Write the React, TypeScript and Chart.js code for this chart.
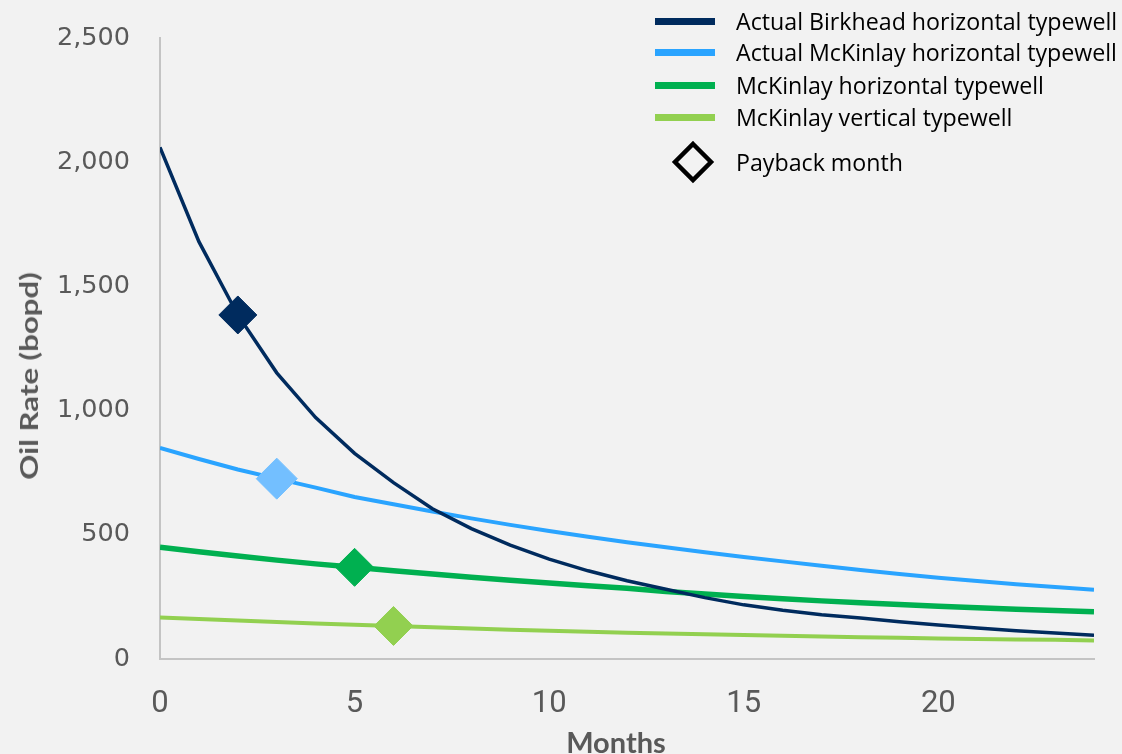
import React, { useEffect, useRef } from 'react';
import { Chart, registerables } from 'chart.js';

Chart.register(...registerables);

// ---- Data ----
const months = [0, 1, 2, 3, 4, 5, 6, 7, 8, 9, 10, 11, 12, 13, 14, 15, 16, 17, 18, 19, 20, 21, 22, 23, 24];

const birkheadActual = [2060, 1680, 1385, 1152, 972, 828, 710, 605, 525, 458, 402, 355, 315, 281, 247, 218, 196, 178, 165, 150, 137, 125, 114, 105, 96];
const mckinlayActualH = [850, 805, 763, 726, 690, 652, 623, 594, 566, 540, 515, 492, 470, 450, 430, 411, 393, 375, 358, 342, 327, 314, 301, 290, 279];
const mckinlayH = [450, 432, 415, 398, 383, 369, 355, 342, 329, 317, 306, 295, 285, 272, 262, 252, 243, 234, 226, 219, 212, 206, 200, 195, 190];
const mckinlayV = [167, 161, 155, 149, 143, 138, 133, 128, 123, 118, 114, 110, 106, 103, 100, 97, 94, 91, 88, 86, 83, 81, 79, 77, 74];

const seriesNames = [
  'Actual Birkhead horizontal typewell',
  'Actual McKinlay horizontal typewell',
  'McKinlay horizontal typewell',
  'McKinlay vertical typewell',
];
const paybackMonths = [2, 3, 5, 6];
const paybackLabel = 'Payback month';

const yTicks = [0, 500, 1000, 1500, 2000, 2500];
const xTicks = [0, 5, 10, 15, 20];

// ---- Styles ----
const lineColors = ['#002B5E', '#2AA4FF', '#00B050', '#92D050'];
const markerColors = ['#002B5E', '#73BFFF', '#00B050', '#92D050'];
const lineWidths = [3.5, 4, 5.5, 4];
const markerRadii = [19, 20.5, 19, 19.5];

export default function App() {
  const canvasRef = useRef<HTMLCanvasElement | null>(null);

  useEffect(() => {
    const canvas = canvasRef.current;
    if (!canvas) return;
    const seriesList = [birkheadActual, mckinlayActualH, mckinlayH, mckinlayV];

    const lineDatasets = seriesList.map((s, i) => ({
      label: seriesNames[i],
      data: months.map((m, j) => ({ x: m, y: s[j] })),
      borderColor: lineColors[i],
      backgroundColor: lineColors[i],
      borderWidth: lineWidths[i],
      pointRadius: 0,
      tension: 0,
      fill: false,
      order: i,
    }));

    const markerDataset = {
      label: paybackLabel,
      data: paybackMonths.map((m, k) => ({ x: m, y: seriesList[k][months.indexOf(m)] })),
      showLine: false,
      pointStyle: 'rectRot',
      pointRadius: markerRadii,
      pointBackgroundColor: markerColors,
      pointBorderColor: markerColors,
      pointBorderWidth: 1,
      order: -1,
    };

    const chart = new Chart(canvas, {
      type: 'line',
      data: { datasets: [...lineDatasets, markerDataset] as any },
      options: {
        animation: false,
        responsive: true,
        maintainAspectRatio: false,
        layout: { padding: { left: 0, top: 38, right: 28, bottom: 0 } },
        plugins: { legend: { display: false }, tooltip: { enabled: false } },
        scales: {
          x: {
            type: 'linear',
            min: 0,
            max: 24,
            afterFit: (scale: any) => {
              scale.height = 95;
              scale.paddingLeft = 0;
              scale.paddingRight = 0;
            },
            afterBuildTicks: (scale: any) => { scale.ticks = xTicks.map((v) => ({ value: v })); },
            ticks: {
              includeBounds: false,
              padding: 27,
              color: '#595959',
              font: { family: "'Liberation Sans Narrow', Roboto, sans-serif", size: 31 },
              maxRotation: 0,
            },
            grid: { display: true, drawOnChartArea: false, drawTicks: false, color: 'transparent' },
            border: { display: true, color: '#C4C4C4', width: 2 },
          },
          y: {
            type: 'linear',
            min: 0,
            max: 2500,
            afterFit: (scale: any) => {
              scale.width = 160;
              scale.paddingTop = 0;
              scale.paddingBottom = 0;
            },
            afterBuildTicks: (scale: any) => { scale.ticks = yTicks.map((v) => ({ value: v })); },
            ticks: {
              padding: 30,
              color: '#595959',
              font: { family: "'DejaVu Sans', sans-serif", size: 25.5 },
              callback: (v: any) => Number(v).toLocaleString('en-US'),
            },
            grid: { display: true, drawOnChartArea: false, drawTicks: false, color: 'transparent' },
            border: { display: true, color: '#C4C4C4', width: 2 },
          },
        },
      } as any,
    });
    return () => chart.destroy();
  }, []);

  const legendRowCenters = [21, 52, 85, 117];

  return (
    <div style={{ position: 'fixed', left: 0, top: 0, width: 1122, height: 754, background: '#F2F2F2', overflow: 'hidden', fontFamily: 'Lato, sans-serif' }}>
      <div style={{ position: 'absolute', left: 0, top: 0, width: 1122, height: 754 }}>
        <canvas ref={canvasRef} />
      </div>
      {/* Y axis title */}
      <div style={{ position: 'absolute', left: 29, top: 376, transform: 'translate(-50%, -50%) rotate(-90deg) scaleX(1.3)', whiteSpace: 'nowrap', fontWeight: 700, fontSize: 24, color: '#595959', lineHeight: 1 }}>
        Oil Rate (bopd)
      </div>
      {/* X axis title */}
      <div style={{ position: 'absolute', left: 616, top: 727, transform: 'translateX(-50%)', whiteSpace: 'nowrap', fontWeight: 700, fontSize: 29, color: '#595959', lineHeight: 1 }}>
        Months
      </div>
      {/* Legend */}
      {seriesNames.map((name, i) => (
        <div key={name} style={{ position: 'absolute', left: 655, top: legendRowCenters[i] - 15, height: 30, display: 'flex', alignItems: 'center', whiteSpace: 'nowrap' }}>
          <div style={{ width: 60, height: 7, background: lineColors[i] }} />
          <div style={{ marginLeft: 21, fontSize: 23.2, color: '#000', fontFamily: "'Open Sans', sans-serif" }}>{name}</div>
        </div>
      ))}
      <div style={{ position: 'absolute', left: 655, top: 162 - 22, height: 44, display: 'flex', alignItems: 'center', whiteSpace: 'nowrap' }}>
        <svg width={60} height={44} viewBox="0 0 60 44">
          <polygon points="38,4 56,22 38,40 20,22" fill="none" stroke="#000" strokeWidth={4.5} strokeLinejoin="miter" />
        </svg>
        <div style={{ marginLeft: 21, fontSize: 23.2, color: '#000', fontFamily: "'Open Sans', sans-serif" }}>{paybackLabel}</div>
      </div>
    </div>
  );
}
